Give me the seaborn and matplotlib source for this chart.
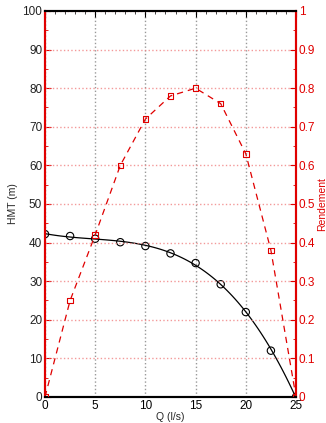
import numpy as np
import pandas as pd
import seaborn as sns
import matplotlib.pyplot as plt
from matplotlib.ticker import MultipleLocator, FormatStrFormatter

# Data
q = [0, 2.5, 5, 7.5, 10, 12.5, 15, 17.5, 20, 22.5, 25]
hmt = [42.2, 41.7, 41.0, 40.1, 39.1, 37.2, 34.7, 29.2, 22.0, 12.0, 0.0]
rendement = [0.0, 0.25, 0.42, 0.60, 0.72, 0.78, 0.80, 0.76, 0.63, 0.38, 0.0]

df = pd.DataFrame({'Q': q, 'HMT': hmt, 'Rendement': rendement})

sns.set_style("white")
plt.rcParams['font.family'] = ['Liberation Sans', 'DejaVu Sans']
plt.rcParams['font.size'] = 8

red = '#e00000'

fig = plt.figure(figsize=(3.26, 4.23), dpi=100)
ax = fig.add_axes([0.138, 0.0615, 0.77, 0.9125])
ax2 = ax.twinx()

# HMT curve (left axis)
sns.regplot(x='Q', y='HMT', data=df, order=3, ci=None, scatter=False, ax=ax,
            line_kws={'color': 'black', 'lw': 0.9})
sns.scatterplot(x='Q', y='HMT', data=df, ax=ax, marker='o', s=28,
                facecolor='none', edgecolor='black', linewidth=0.8, zorder=5)

# Rendement curve (right axis)
sns.lineplot(x='Q', y='Rendement', data=df, ax=ax2, color=red, lw=0.9,
             linestyle=(0, (5, 4)))
sns.scatterplot(x='Q', y='Rendement', data=df, ax=ax2, marker='s', s=16,
                facecolor='none', edgecolor=red, linewidth=0.8, zorder=5)

ax.set_xlim(0, 25)
ax.set_ylim(0, 100)
ax2.set_ylim(0, 1)

ax.xaxis.set_major_locator(MultipleLocator(5))
ax.xaxis.set_minor_locator(MultipleLocator(1))
ax.yaxis.set_major_locator(MultipleLocator(10))
ax.yaxis.set_minor_locator(MultipleLocator(5))
ax2.yaxis.set_major_locator(MultipleLocator(0.1))
ax2.yaxis.set_minor_locator(MultipleLocator(0.05))
ax2.yaxis.set_major_formatter(FormatStrFormatter('%g'))

# grid: vertical gray dotted, horizontal light red dotted
ax.grid(False)
ax2.grid(False)
ax.xaxis.grid(True, which='major', color='#999999', ls=':', lw=1)
ax2.yaxis.grid(True, which='major', color='#f08080', ls=':', lw=1, alpha=0.8)

for a in (ax, ax2):
    a.tick_params(which='both', direction='in', top=True)
    a.tick_params(which='major', length=4)
    a.tick_params(which='minor', length=2)

ax.tick_params(axis='x', colors='black', labelsize=8.5, pad=2)
ax.tick_params(axis='y', which='both', color=red, labelcolor='#222222', labelsize=8.5, pad=2, right=False)
ax2.tick_params(axis='y', which='both', color=red, labelcolor=red, labelsize=8.5, pad=2, left=False)
ax2.tick_params(axis='x', which='both', bottom=False, top=False)

for a in (ax, ax2):
    a.spines['top'].set_color('black')
    a.spines['bottom'].set_color('black')
    a.spines['top'].set_linewidth(1.5)
    a.spines['bottom'].set_linewidth(1.5)
    a.spines['left'].set_color(red)
    a.spines['right'].set_color(red)
    a.spines['left'].set_linewidth(1.5)
    a.spines['right'].set_linewidth(1.5)

ax.set_xlabel("Q (l/s)", fontsize=7.5, labelpad=0)
ax.set_ylabel("HMT (m)", fontsize=7.5, labelpad=3)
ax2.set_ylabel("Rendement", fontsize=7.5, color=red, labelpad=1)

for a in (ax, ax2):
    a.set_facecolor('none')
ax.set_facecolor('white')
ax.set_zorder(0)
ax2.set_zorder(1)

fig.savefig("out.png", dpi=100)
